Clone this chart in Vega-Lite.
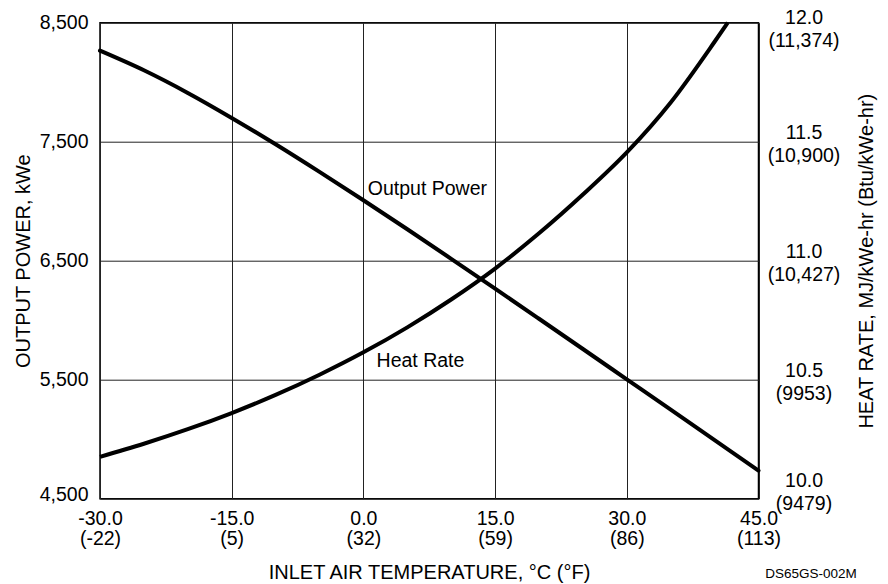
{
  "$schema": "https://vega.github.io/schema/vega-lite/v6.json",
  "width": 658.5,
  "height": 476,
  "autosize": {"type": "none"},
  "padding": {"left": 100, "top": 22.7, "right": 129.5, "bottom": 85.3},
  "background": "white",
  "config": {
    "font": "Liberation Sans",
    "view": {"stroke": "black", "strokeWidth": 1.5},
    "axis": {
      "labelFont": "Liberation Sans",
      "titleFont": "Liberation Sans",
      "labelColor": "black",
      "titleColor": "black",
      "labelFontSize": 19.5,
      "titleFontSize": 20,
      "titleFontWeight": "normal",
      "ticks": false,
      "tickSize": 0,
      "domain": false,
      "labelFlush": false,
      "labelOverlap": false,
      "labelBound": false,
      "gridColor": "#222222",
      "gridWidth": 1,
      "gridOpacity": 1
    }
  },
  "datasets": {
    "power": [
      {"T": -30, "P": 8265}, {"T": -25, "P": 8100}, {"T": -20, "P": 7910},
      {"T": -15, "P": 7700}, {"T": -10, "P": 7478}, {"T": -5, "P": 7246},
      {"T": 0, "P": 7008}, {"T": 5, "P": 6764}, {"T": 10, "P": 6516},
      {"T": 15, "P": 6265}, {"T": 20, "P": 6012}, {"T": 25, "P": 5758},
      {"T": 30, "P": 5503}, {"T": 35, "P": 5248}, {"T": 40, "P": 4992},
      {"T": 45, "P": 4736}
    ],
    "heat": [
      {"T": -30, "H": 10.176}, {"T": -25, "H": 10.231}, {"T": -20, "H": 10.292},
      {"T": -15, "H": 10.36}, {"T": -10, "H": 10.436}, {"T": -5, "H": 10.521},
      {"T": 0, "H": 10.615}, {"T": 5, "H": 10.72}, {"T": 10, "H": 10.837},
      {"T": 15, "H": 10.967}, {"T": 20, "H": 11.115}, {"T": 25, "H": 11.278},
      {"T": 30, "H": 11.455}, {"T": 35, "H": 11.665}, {"T": 40, "H": 11.92},
      {"T": 41.5, "H": 12.0}
    ],
    "notes": [
      {"T": 0.5, "P": 7056, "label": "Output Power"},
      {"T": 1.5, "P": 5604, "label": "Heat Rate"}
    ],
    "code": [
      {"T": 56.2, "P": 3831, "label": "DS65GS-002M"}
    ]
  },
  "layer": [
    {
      "layer": [
        {
          "data": {"name": "power"},
          "mark": {"type": "line", "color": "black", "strokeWidth": 4, "interpolate": "monotone", "strokeCap": "round"},
          "encoding": {
            "x": {
              "field": "T", "type": "quantitative",
              "scale": {"domain": [-30, 45], "nice": false, "zero": false},
              "axis": {
                "values": [-30, -15, 0, 15, 30, 45],
                "grid": true,
                "title": "INLET AIR TEMPERATURE, °C (°F)",
                "titleX": 329,
                "titleY": 80,
                "titleBaseline": "alphabetic",
                "titleAlign": "center",
                "labelBaseline": "top",
                "labelPadding": 11,
                "labelLineHeight": 20,
                "labelAlign": "center",
                "labelExpr": "[datum.value + '.0', '(' + round(datum.value * 9 / 5 + 32) + ')']"
              }
            },
            "y": {
              "field": "P", "type": "quantitative",
              "scale": {"domain": [4500, 8500], "nice": false, "zero": false},
              "axis": {
                "orient": "left",
                "values": [4500, 5500, 6500, 7500, 8500],
                "grid": true,
                "labelExpr": "format(datum.value, ',d')",
                "labelPadding": 12,
                "labelBaseline": "middle",
                "labelOffset": {"condition": {"test": "datum.value == 4500", "value": -4}, "value": 0},
                "title": "OUTPUT POWER, kWe",
                "titleAngle": 270,
                "titleX": -77,
                "titleY": 238,
                "titleAlign": "center",
                "titleBaseline": "middle"
              }
            }
          }
        },
        {
          "data": {"name": "notes"},
          "mark": {"type": "text", "align": "left", "baseline": "alphabetic", "fontSize": 19.5, "color": "black", "font": "Liberation Sans"},
          "encoding": {
            "x": {"field": "T", "type": "quantitative"},
            "y": {"field": "P", "type": "quantitative"},
            "text": {"field": "label"}
          }
        },
        {
          "data": {"name": "code"},
          "mark": {"type": "text", "align": "right", "baseline": "alphabetic", "fontSize": 13.5, "color": "black", "font": "Liberation Sans", "clip": false},
          "encoding": {
            "x": {"field": "T", "type": "quantitative"},
            "y": {"field": "P", "type": "quantitative"},
            "text": {"field": "label"}
          }
        }
      ]
    },
    {
      "data": {"name": "heat"},
      "mark": {"type": "line", "color": "black", "strokeWidth": 4, "interpolate": "monotone"},
      "encoding": {
        "x": {"field": "T", "type": "quantitative"},
        "y": {
          "field": "H", "type": "quantitative",
          "scale": {"domain": [10, 12], "nice": false, "zero": false},
          "axis": {
            "orient": "right",
            "values": [10, 10.5, 11, 11.5, 12],
            "grid": false,
            "labelAlign": "center",
            "labelPadding": 45,
            "labelBaseline": "alphabetic",
            "labelLineHeight": 22.5,
            "labelOffset": {"condition": [{"test": "datum.value == 10", "value": -12}, {"test": "datum.value == 12", "value": 1}], "value": -3},
            "labelExpr": "[format(datum.value, '.1f'), datum.value == 10 ? '(9479)' : datum.value == 10.5 ? '(9953)' : datum.value == 11 ? '(10,427)' : datum.value == 11.5 ? '(10,900)' : '(11,374)']",
            "title": "HEAT RATE, MJ/kWe-hr (Btu/kWe-hr)",
            "titleAngle": 270,
            "titleX": 107.5,
            "titleY": 238,
            "titleAlign": "center",
            "titleBaseline": "middle"
          }
        }
      }
    }
  ],
  "resolve": {"scale": {"y": "independent"}, "axis": {"y": "independent"}}
}
